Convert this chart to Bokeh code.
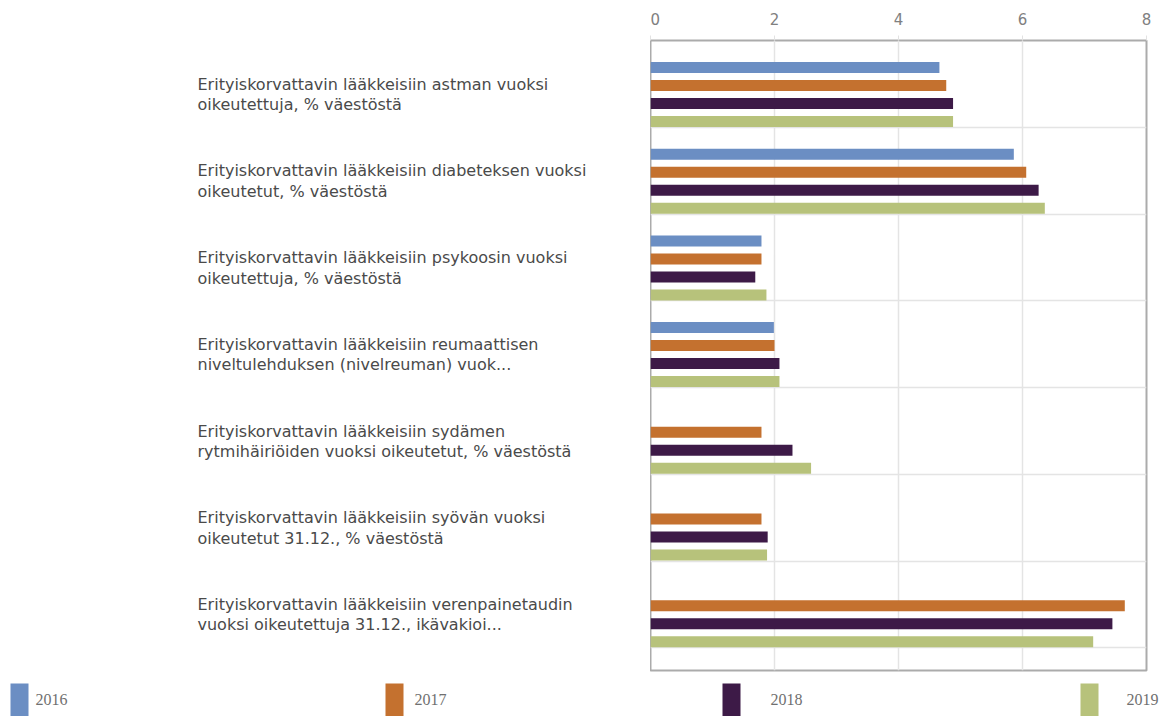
from bokeh.plotting import figure
from bokeh.layouts import column, row
from bokeh.models import Range1d, FixedTicker, ColumnDataSource
from bokeh.core.properties import value
from bokeh.embed import file_html
from bokeh.resources import INLINE

# ---------------- data ----------------
categories = [
    "Erityiskorvattavin lääkkeisiin astman vuoksi\noikeutettuja, % väestöstä",
    "Erityiskorvattavin lääkkeisiin diabeteksen vuoksi\noikeutetut, % väestöstä",
    "Erityiskorvattavin lääkkeisiin psykoosin vuoksi\noikeutettuja, % väestöstä",
    "Erityiskorvattavin lääkkeisiin reumaattisen\nniveltulehduksen (nivelreuman) vuok...",
    "Erityiskorvattavin lääkkeisiin sydämen\nrytmihäiriöiden vuoksi oikeutetut, % väestöstä",
    "Erityiskorvattavin lääkkeisiin syövän vuoksi\noikeutetut 31.12., % väestöstä",
    "Erityiskorvattavin lääkkeisiin verenpainetaudin\nvuoksi oikeutettuja 31.12., ikävakioi...",
]
years = ["2016", "2017", "2018", "2019"]
v2016 = [4.66, 5.86, 1.79, 1.99, None, None, None]
v2017 = [4.77, 6.06, 1.79, 2.00, 1.79, 1.79, 7.65]
v2018 = [4.88, 6.26, 1.69, 2.08, 2.29, 1.89, 7.45]
v2019 = [4.88, 6.36, 1.87, 2.08, 2.59, 1.88, 7.14]
x_ticks = [0, 2, 4, 6, 8]

series = [v2016, v2017, v2018, v2019]
colors = ["#6b8ec3", "#c4712f", "#3d1a47", "#b7c27b"]

# ---------------- geometry ----------------
n = len(categories)
band_px = 86.7
frame_h = 630
top_pad = 54 / band_px
y_top = -top_pad
y_bot = y_top + frame_h / band_px
y_range = Range1d(start=y_bot, end=y_top)

offsets = [-27 / band_px, -9 / band_px, 9 / band_px, 27 / band_px]
bar_h = 11 / band_px

BT, BB = 40, 4
H = BT + frame_h + BB

# ---------------- chart ----------------
p = figure(width=522, height=H, x_range=Range1d(0, 8), y_range=y_range,
           x_axis_location="above", y_axis_location=None,
           output_backend="svg", toolbar_location=None,
           min_border_left=0, min_border_right=26,
           min_border_top=BT, min_border_bottom=BB)

for vals, off, col in zip(series, offsets, colors):
    ys = [i + off for i, v in enumerate(vals) if v is not None]
    xs = [v for v in vals if v is not None]
    src = ColumnDataSource(dict(y=ys, right=xs))
    p.hbar(y="y", left=0, right="right", height=bar_h, source=src,
           fill_color=col, line_color=None)

p.xaxis.ticker = FixedTicker(ticks=x_ticks)
p.xaxis.axis_line_color = None
p.xaxis.major_tick_line_color = "#e2e2e2"
p.xaxis.major_tick_out = 5
p.xaxis.major_tick_in = 0
p.xaxis.minor_tick_line_color = None
p.xaxis.major_label_standoff = 11
p.xaxis.major_label_text_font = "DejaVu Sans"
p.xaxis.major_label_text_font_size = "15px"
p.xaxis.major_label_text_color = "#808080"

p.xgrid.ticker = FixedTicker(ticks=x_ticks)
p.xgrid.grid_line_color = "#e4e4e4"
p.xgrid.grid_line_width = 1.5
p.ygrid.ticker = FixedTicker(ticks=[i + 33 / band_px for i in range(n)])
p.ygrid.grid_line_color = "#e4e4e4"
p.ygrid.grid_line_width = 1.5

p.outline_line_color = "#ababab"
p.outline_line_width = 2
p.background_fill_color = "white"
p.border_fill_color = "white"

# ---------------- category labels ----------------
lf = figure(width=650, height=H, x_range=Range1d(0, 650), y_range=y_range,
            x_axis_location=None, y_axis_location=None,
            output_backend="svg", toolbar_location=None,
            min_border_left=0, min_border_right=0,
            min_border_top=BT, min_border_bottom=BB)
lf.xgrid.visible = False
lf.ygrid.visible = False
lf.outline_line_color = None
lsrc = ColumnDataSource(dict(x=[197] * n, y=list(range(n)), t=categories))
lf.text(x="x", y="y", text="t", source=lsrc, text_align="left",
        text_baseline="middle", text_font=value("DejaVu Sans"),
        text_font_size="16px", text_color="#4a4a4a", text_line_height=1.08)

# ---------------- legend ----------------
LH = 716 - H
lg = figure(width=1172, height=LH, x_range=Range1d(0, 1172), y_range=Range1d(LH, 0),
            x_axis_location=None, y_axis_location=None,
            output_backend="svg", toolbar_location=None,
            min_border=0)
lg.xgrid.visible = False
lg.ygrid.visible = False
lg.outline_line_color = None
sq_left = [10, 385, 722, 1080]
tx_left = [35, 414, 770, 1126]
sq_top = 683 - H
lg.quad(left=sq_left, right=[s + 18 for s in sq_left], top=[sq_top] * 4,
        bottom=[LH + 6] * 4, fill_color=colors, line_color=None)
lg.text(x=tx_left, y=[699 - H] * 4, text=years, text_align="left",
        text_baseline="middle", text_font=value("Liberation Serif"),
        text_font_size="16px", text_color="#707070")

layout = column(row(lf, p, spacing=0), lg, spacing=0)
open("out.html", "w").write(file_html(layout, INLINE))
